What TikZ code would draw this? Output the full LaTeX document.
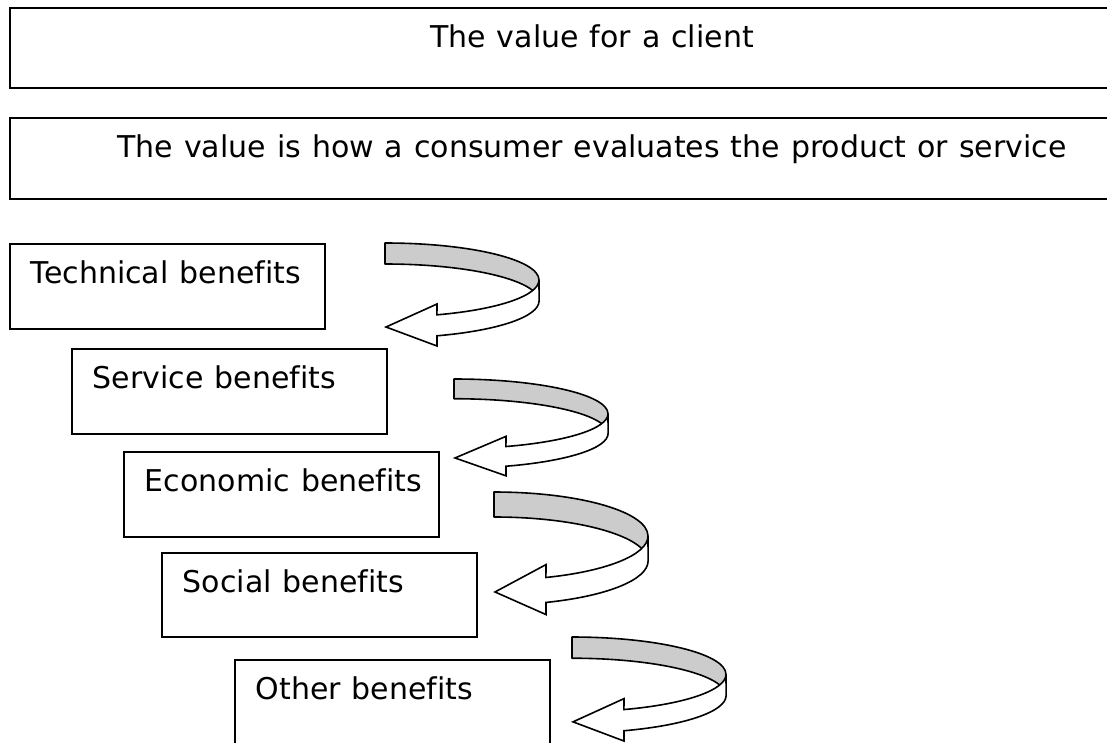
\documentclass[tikz,border=0pt]{standalone}
\usepackage{fontspec}
\setmainfont[WordSpace=1.15,Ligatures=NoCommon]{DejaVu Sans}

\begin{document}
\begin{tikzpicture}[x=1pt,y=1pt,line width=1.6pt,
  every node/.style={font=\fontsize{30}{36}\selectfont},
  box/.style={draw,rectangle,inner sep=0pt,anchor=north west,minimum width=315pt,minimum height=85pt},
  banner/.style={box,minimum width=1120pt,minimum height=80pt},
  txt/.style={anchor=base west,inner sep=0pt},
  mid/.style={anchor=base,inner sep=0pt},
  band/.style={draw,fill=gray!40,line join=round},
  front/.style={draw,fill=white,line join=miter},
  twist/.pic={
    % back of the ribbon
    \path[band] (0,0) arc[start angle=90,end angle=0,x radius=154,y radius=37]
      -- (154,-58) arc[start angle=0,end angle=90,x radius=154,y radius=37] -- cycle;
    % front of the ribbon with the head
    \path[front] (154,-37) arc[start angle=0,end angle=-70.3,x radius=154,y radius=37]
      -- (52,-61) -- (1,-84) -- (52,-103) -- (52,-92.8)
      arc[start angle=-70.3,end angle=0,x radius=154,y radius=37] -- cycle;
  }]
  \useasboundingbox (0,0) rectangle (1107,-742);

  \node[banner] (value) at (9,-7) {};
  \node[mid] (valuetxt) at (592,-47) {The value for a client};
  \node[banner,minimum height=81pt] (def) at (9,-117) {};
  \node[mid] (deftxt) at (592,-157) {The value is how a consumer evaluates the product or service};

  \node[box] (tech) at (9,-243) {};
  \node[box] (serv) at (71,-348) {};
  \node[box] (econ) at (123,-451) {};
  \node[box,minimum height=84pt] (soc) at (161,-552) {};
  \node[box] (oth) at (234,-659) {};

  \node[txt] (techtxt) at ([xshift=21pt,yshift=-40pt]tech.north west) {Technical benefits};
  \node[txt] (servtxt) at ([xshift=21pt,yshift=-40pt]serv.north west) {Service benefits};
  \node[txt] (econtxt) at ([xshift=21pt,yshift=-40pt]econ.north west) {Economic benefits};
  \node[txt] (soctxt) at ([xshift=21pt,yshift=-40pt]soc.north west) {Social benefits};
  \node[txt] (othtxt) at ([xshift=21pt,yshift=-40pt]oth.north west) {Other benefits};

  \pic (t1) at (385,-243) {twist};
  \pic (t2) [yscale=0.94] at (454,-379) {twist};
  \pic (t3) [yscale=1.19] at (494,-492) {twist};
  \pic (t4) [yscale=1.01] at (572,-637) {twist};
\end{tikzpicture}
\end{document}
